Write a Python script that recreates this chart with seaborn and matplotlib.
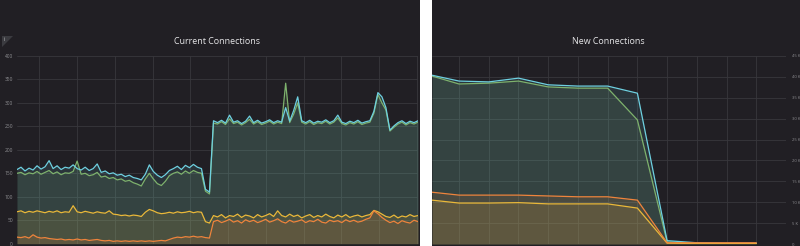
import numpy as np
import pandas as pd
import matplotlib
matplotlib.use("Agg")
import matplotlib.pyplot as plt
from matplotlib.patches import Rectangle, Polygon
import seaborn as sns

# ---------------- data ----------------
cur_cyan = [158, 163, 155, 161, 157, 166, 159, 164, 177, 160, 166, 158, 163, 161, 168, 160, 157, 163, 156, 160,
            170, 152, 155, 149, 151, 146, 148, 143, 146, 141, 139, 136, 148, 168, 154, 146, 141, 147, 156, 160,
            165, 158, 167, 162, 169, 163, 160, 116, 110, 262, 258, 263, 257, 274, 259, 262, 256, 261, 272, 258,
            263, 257, 260, 264, 258, 262, 259, 290, 261, 284, 313, 262, 258, 263, 257, 261, 259, 264, 258, 262,
            274, 259, 256, 261, 258, 263, 257, 260, 262, 282, 322, 313, 290, 242, 251, 258, 262, 256, 261, 258, 262]
cur_green = [150, 152, 147, 151, 149, 154, 148, 152, 156, 149, 153, 147, 151, 150, 154, 176, 148, 150, 145, 147,
             152, 142, 144, 139, 141, 136, 138, 133, 135, 130, 127, 123, 138, 150, 138, 128, 124, 133, 145, 150,
             153, 148, 155, 150, 156, 152, 150, 112, 106, 257, 255, 260, 254, 266, 256, 259, 253, 258, 265, 255,
             260, 254, 257, 261, 255, 259, 256, 342, 258, 276, 300, 259, 255, 260, 254, 258, 256, 261, 255, 259,
             268, 256, 253, 258, 255, 260, 254, 257, 259, 278, 318, 300, 285, 240, 248, 255, 259, 253, 258, 255, 259]
cur_yellow = [68, 70, 66, 69, 67, 70, 68, 66, 69, 67, 70, 66, 68, 67, 81, 68, 66, 69, 67, 65,
              68, 66, 65, 70, 63, 62, 60, 61, 59, 61, 60, 58, 67, 73, 70, 66, 64, 65, 67, 65,
              68, 66, 67, 69, 66, 68, 67, 47, 44, 60, 57, 62, 55, 60, 58, 63, 56, 61, 59, 55,
              62, 57, 60, 64, 58, 70, 60, 57, 63, 58, 61, 55, 59, 62, 56, 60, 57, 63, 58, 55,
              61, 57, 62, 56, 59, 61, 57, 60, 62, 71, 68, 63, 58, 56, 61, 55, 59, 57, 62, 58, 60]
cur_orange = [14, 13, 15, 12, 19, 14, 12, 13, 11, 10, 9, 10, 8, 9, 8, 10, 8, 9, 7, 8,
              9, 7, 6, 7, 5, 6, 5, 6, 5, 6, 5, 6, 5, 6, 5, 6, 7, 6, 9, 12,
              14, 13, 15, 14, 16, 14, 15, 13, 12, 47, 50, 45, 48, 52, 46, 49, 44, 51, 47, 50,
              45, 48, 52, 46, 49, 53, 47, 44, 50, 46, 48, 51, 45, 49, 47, 52, 46, 44, 50, 47,
              49, 45, 51, 47, 50, 46, 48, 52, 55, 70, 64, 56, 50, 45, 48, 43, 49, 46, 44, 50, 47]
cur_time = list(range(len(cur_cyan)))

new_time = [-0.91, 0, 1, 2, 3, 4, 5, 6, 7, 8, 9, 10]
new_cyan = [40.4, 39.0, 38.8, 39.7, 38.1, 37.8, 37.8, 36.1, 0.8, 0.3, 0.2, 0.2]
new_green = [40.2, 38.3, 38.5, 39.0, 37.6, 37.3, 37.3, 29.7, 0.5, 0.2, 0.1, 0.1]
new_orange = [12.4, 11.7, 11.7, 11.7, 11.5, 11.3, 11.3, 10.5, 0.3, 0.3, 0.3, 0.3]
new_yellow = [10.5, 9.8, 9.8, 9.9, 9.6, 9.6, 9.6, 8.6, 0.2, 0.1, 0.1, 0.1]

left_yticks = [0, 50, 100, 150, 200, 250, 300, 350, 400]
right_yticks = [0, 5, 10, 15, 20, 25, 30, 35, 40, 45]
right_ylabels = ["0", "5 K", "10 K", "15 K", "20 K", "25 K", "30 K", "35 K", "40 K", "45 K"]

titles = ["Current Connections", "New Connections"]

# ---------------- style ----------------
BG = "#211f24"
GRID = "#38373c"
COLORS = {"cyan": "#6ED0E0", "green": "#7EB26D", "yellow": "#EAB839", "orange": "#EF843C"}
DRAW_ORDER = ["green", "cyan", "yellow", "orange"]

sns.set_theme(style="dark")
plt.rcParams["font.family"] = ["Open Sans", "DejaVu Sans"]

W, H = 800, 246
fig = plt.figure(figsize=(W / 100, H / 100), dpi=100, facecolor=BG)


def px_rect(x0, x1, ytop, ybot):
    return [x0 / W, 1 - ybot / H, (x1 - x0) / W, (ybot - ytop) / H]


def make_df(t, series):
    rows = []
    for name in DRAW_ORDER:
        for ti, v in zip(t, series[name]):
            rows.append((ti, v, name))
    return pd.DataFrame(rows, columns=["t", "v", "s"])


def draw(ax, t, series):
    for name in DRAW_ORDER:
        ax.fill_between(t, 0, series[name], color=COLORS[name], alpha=0.12, linewidth=0, zorder=1)
    df = make_df(t, series)
    sns.lineplot(data=df, x="t", y="v", hue="s", hue_order=DRAW_ORDER, palette=COLORS, ax=ax,
                 legend=False, linewidth=0.9, zorder=3)
    ax.set_facecolor(BG)
    for sp in ax.spines.values():
        sp.set_visible(False)
    ax.set_xlabel("")
    ax.set_ylabel("")
    ax.grid(True, color=GRID, linewidth=0.6, zorder=0)
    ax.set_axisbelow(True)
    ax.tick_params(length=0, colors="#8e8e92", labelsize=3.5)


# left panel
axL = fig.add_axes(px_rect(17, 418, 56, 243.7))
draw(axL, cur_time, {"cyan": cur_cyan, "green": cur_green, "yellow": cur_yellow, "orange": cur_orange})
axL.set_xlim(0, 100)
axL.set_ylim(0, 400)
axL.set_xticks(np.arange(5.6, 101, 9.41))
axL.set_xticklabels([])
axL.set_yticks(left_yticks)
axL.set_yticklabels([str(v) for v in left_yticks])
axL.tick_params(axis="y", pad=3)

# right panel
axR = fig.add_axes(px_rect(432, 786, 56, 244))
draw(axR, new_time, {"cyan": new_cyan, "green": new_green, "orange": new_orange, "yellow": new_yellow})
axR.set_xlim(-0.91, 11)
axR.set_ylim(0, 45)
axR.set_xticks(np.arange(0, 12, 1))
axR.set_xticklabels([])
axR.set_yticks(right_yticks)
axR.set_yticklabels(right_ylabels)
axR.yaxis.tick_right()
axR.tick_params(axis="y", pad=4, labelsize=3)

# titles
fig.text(217 / W, 1 - 41 / H, titles[0], ha="center", va="center", color="#e4e4e6", fontsize=6.4)
fig.text(608 / W, 1 - 41 / H, titles[1], ha="center", va="center", color="#e4e4e6", fontsize=6.4)

# white gap between panels
fig.patches.append(Rectangle((419.5 / W, 0), 12 / W, 1, transform=fig.transFigure,
                             facecolor="white", edgecolor="none", zorder=10))

# small corner icon
fig.patches.append(Polygon([(2 / W, 1 - 36 / H), (13 / W, 1 - 36 / H), (2 / W, 1 - 47 / H)],
                           closed=True, transform=fig.transFigure, facecolor="#3b3b40",
                           edgecolor="none", zorder=5))
fig.text(4.5 / W, 1 - 39.5 / H, "i", color="#cfcfd2", fontsize=3.5, ha="center", va="center", zorder=6)

fig.savefig("out.png", dpi=100, facecolor=BG)
